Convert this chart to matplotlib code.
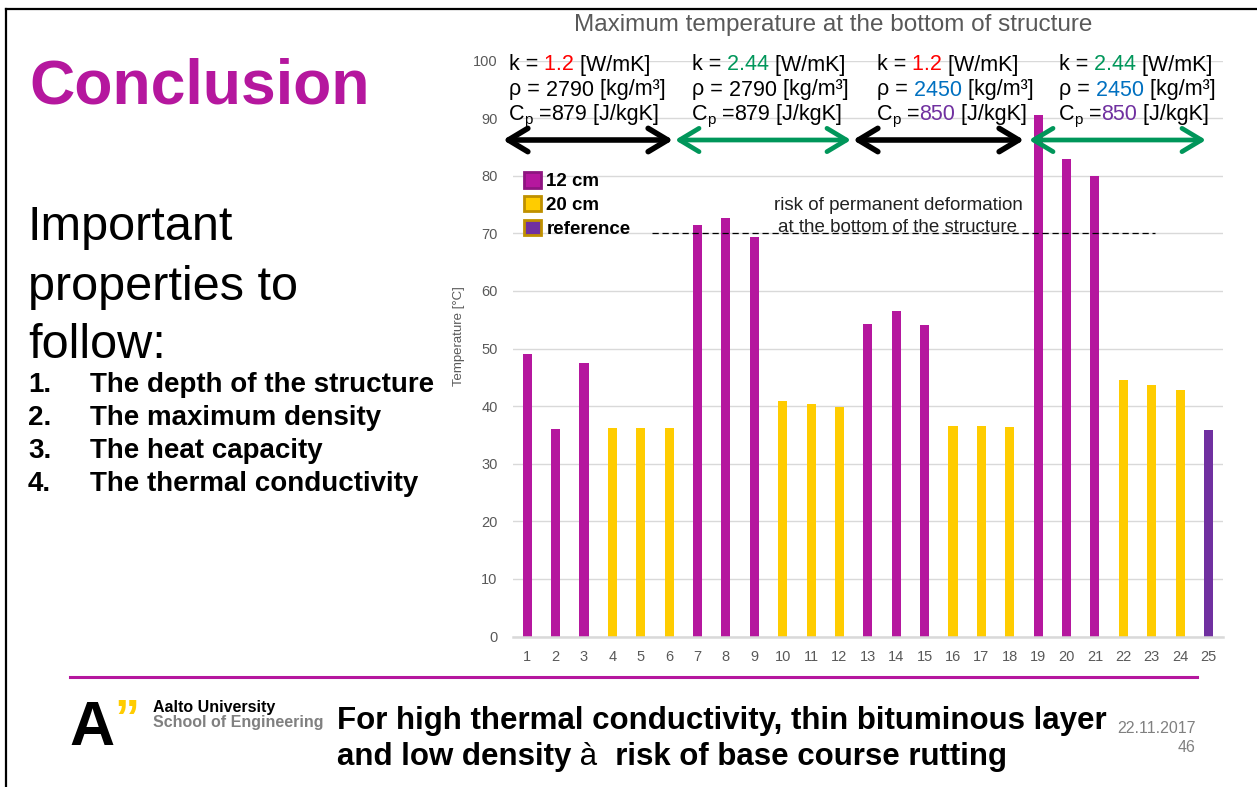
import matplotlib
matplotlib.use("Agg")
import matplotlib.pyplot as plt
from matplotlib.patches import Patch, FancyArrowPatch

plt.rcParams["font.family"] = ["Liberation Sans", "DejaVu Sans"]

W, H = 1257, 787

# simulation runs and max temperature at the bottom of the structure
runs = list(range(1, 26))
temps = [49.0, 36.1, 47.4, 36.2, 36.2, 36.2, 71.4, 72.7, 69.4, 40.9, 40.4, 39.9,
         54.3, 56.5, 54.1, 36.5, 36.5, 36.4, 90.5, 82.9, 80.0, 44.5, 43.7, 42.8, 35.9]
layer = (["12 cm"] * 3 + ["20 cm"] * 3) * 4 + ["reference"]
legend_labels = ["12 cm", "20 cm", "reference"]
risk_limit = 70

# material parameters per block of six runs
k_vals = ["1.2", "2.44", "1.2", "2.44"]
rho_vals = ["2790", "2790", "2450", "2450"]
cp_vals = ["879", "879", "850", "850"]

bullets = ["The depth of the structure", "The maximum density",
           "The heat capacity", "The thermal conductivity"]

MAGENTA = "#B5179E"
GREEN = "#00965A"
RED = "#FF0000"
BLUE = "#0070C0"
PURPLE = "#7030A0"
GREY = "#595959"

fills = {"12 cm": MAGENTA, "20 cm": "#FFCC00", "reference": PURPLE}
edges = {"12 cm": "#8E1580", "20 cm": "#BF9000", "reference": "#BF9000"}
k_cols = [RED, GREEN, RED, GREEN]
rho_cols = ["black", "black", BLUE, BLUE]
cp_cols = ["black", "black", PURPLE, PURPLE]
arrow_cols = ["black", GREEN, "black", GREEN]

fig = plt.figure(figsize=(W / 100, H / 100), dpi=100)

# chart area
ax = fig.add_axes([513 / W, 1 - 636.5 / H, 709.7 / W, 576 / H])
ax.bar(runs, temps, width=0.32, color=[fills[g] for g in layer], zorder=2)
ax.set_xlim(0.5, 25.5)
ax.set_ylim(0, 100)
ax.set_xticks(runs)
ax.set_yticks(range(0, 101, 10))
ax.tick_params(length=0, labelsize=10.5, labelcolor=GREY)
ax.tick_params(axis="x", pad=10)
ax.tick_params(axis="y", pad=11)
ax.grid(axis="y", color="#D9D9D9", lw=1, zorder=0)
for s in ("top", "right", "left"):
    ax.spines[s].set_visible(False)
ax.spines["bottom"].set_color("#D9D9D9")
ax.spines["bottom"].set_linewidth(1.8)

ax.hlines(risk_limit, 5.4, 23.1, colors="black", lw=0.9,
          linestyles=(0, (5, 3)), zorder=3)

# overlay in pixel coordinates (y down) for slide texts
ov = fig.add_axes([0, 0, 1, 1])
ov.set_xlim(0, W)
ov.set_ylim(H, 0)
ov.axis("off")

handles = [Patch(facecolor=fills[l], edgecolor=edges[l], linewidth=2, label=l)
           for l in legend_labels]
ax.legend(handles=handles, loc="upper left", bbox_to_anchor=(524, 172),
          bbox_transform=ov.transData, frameon=False,
          prop=dict(weight="bold", size=13.5), handlelength=0.9,
          handleheight=0.9, handletextpad=0.3, labelspacing=0.3,
          borderpad=0, borderaxespad=0)

ov.text(898, 210, "risk of permanent deformation", ha="center",
        va="baseline", fontsize=13.5, color="#222222")
ov.text(898, 232, "at the bottom of the structure", ha="center",
        va="baseline", fontsize=13.5, color="#222222")

ov.text(833, 31, "Maximum temperature at the bottom of structure", ha="center",
        va="baseline", fontsize=17.5, color=GREY)
fig.text(459 / W, 1 - 336 / H, "Temperature [°C]", rotation=90, ha="center",
         va="center", fontsize=9.5, color=GREY)


def chain(x, y, parts, size, **kw):
    """Write consecutive text pieces on one baseline, each with its own style."""
    p0 = parts[0]
    first = ov.text(x, y, p0[0], color=p0[1], fontsize=size, va="baseline",
                    fontweight=p0[4] if len(p0) > 4 else kw.get("fontweight", "normal"))
    prev = first
    for part in parts[1:]:
        s, c = part[0], part[1]
        scale, dy = (part[2], part[3]) if len(part) > 2 else (1.0, 0)
        weight = part[4] if len(part) > 4 else kw.get("fontweight", "normal")
        prev = ov.annotate(s, xy=(1, 0), xycoords=(prev, first),
                           xytext=(0, dy), textcoords="offset points",
                           color=c, fontsize=size * scale, va="bottom",
                           fontweight=weight)
    return first


block_x = [509, 692, 877, 1059]
for i, x in enumerate(block_x):
    chain(x, 70.5, [("k =", "black"), (" " + k_vals[i], k_cols[i]),
                    (" [W/mK]", "black")], 15.5)
    chain(x, 95.5, [("ρ =", "black"), (" " + rho_vals[i], rho_cols[i]),
                    (" [kg/m³]", "black")], 15.5)
    chain(x, 120, [("C", "black"), ("p", "black", 0.7, -1.5),
                   (" =", "black"), (cp_vals[i], cp_cols[i]),
                   (" [J/kgK]", "black")], 15.5)

arrow_spans = [(503, 673), (675, 851), (853, 1024), (1029, 1206)]
for (x1, x2), c in zip(arrow_spans, arrow_cols):
    lw = 4.0 if c == "black" else 3.4
    ov.add_patch(FancyArrowPatch((x1, 140), (x2, 140),
                                 arrowstyle="<->,head_length=0.7,head_width=0.42",
                                 mutation_scale=20, lw=lw, color=c,
                                 shrinkA=0, shrinkB=0, capstyle="round",
                                 joinstyle="round"))

# left column
ov.text(29, 103, "Conclusion", fontsize=45, fontweight="bold", color=MAGENTA,
        va="baseline")
for line, yb in zip(["Important", "properties to", "follow:"], [240, 300, 358]):
    ov.text(28, yb, line, fontsize=35, va="baseline", color="black")
for n, (item, yb) in enumerate(zip(bullets, [392, 425, 458, 491]), start=1):
    ov.text(28, yb, f"{n}.", fontsize=20, fontweight="bold", va="baseline")
    ov.text(90, yb, item, fontsize=20, fontweight="bold", va="baseline")

# footer
ov.plot([70, 1197], [677, 677], color=MAGENTA, lw=2.2)
ov.text(69, 745, "A", fontsize=45, fontweight="bold", va="baseline")
ov.text(114, 735, "\u201d", fontsize=36, fontweight="bold", va="baseline",
        color="#FFCC00")
ov.text(153, 712, "Aalto University", fontsize=11.5, fontweight="bold",
        va="baseline")
ov.text(153, 727, "School of Engineering", fontsize=11.5, fontweight="bold",
        va="baseline", color="#808080")
ov.text(337, 729, "For high thermal conductivity, thin bituminous layer",
        fontsize=22.5, fontweight="bold", va="baseline")
chain(337, 765, [("and low density", "black", 1.0, 0, "bold"),
                 (" à", "black", 1.0, 0, "normal"),
                 ("  risk of base course rutting", "black", 1.0, 0, "bold")], 22.5)
ov.text(1196, 733, "22.11.2017", fontsize=11.5, ha="right", va="baseline",
        color="#808080")
ov.text(1196, 752, "46", fontsize=11.5, ha="right", va="baseline",
        color="#808080")

# slide frame
ov.plot([6, 6], [9, H], color="black", lw=1.6)
ov.plot([6, W], [9, 9], color="black", lw=1.6)

fig.savefig("out.png", dpi=100)
